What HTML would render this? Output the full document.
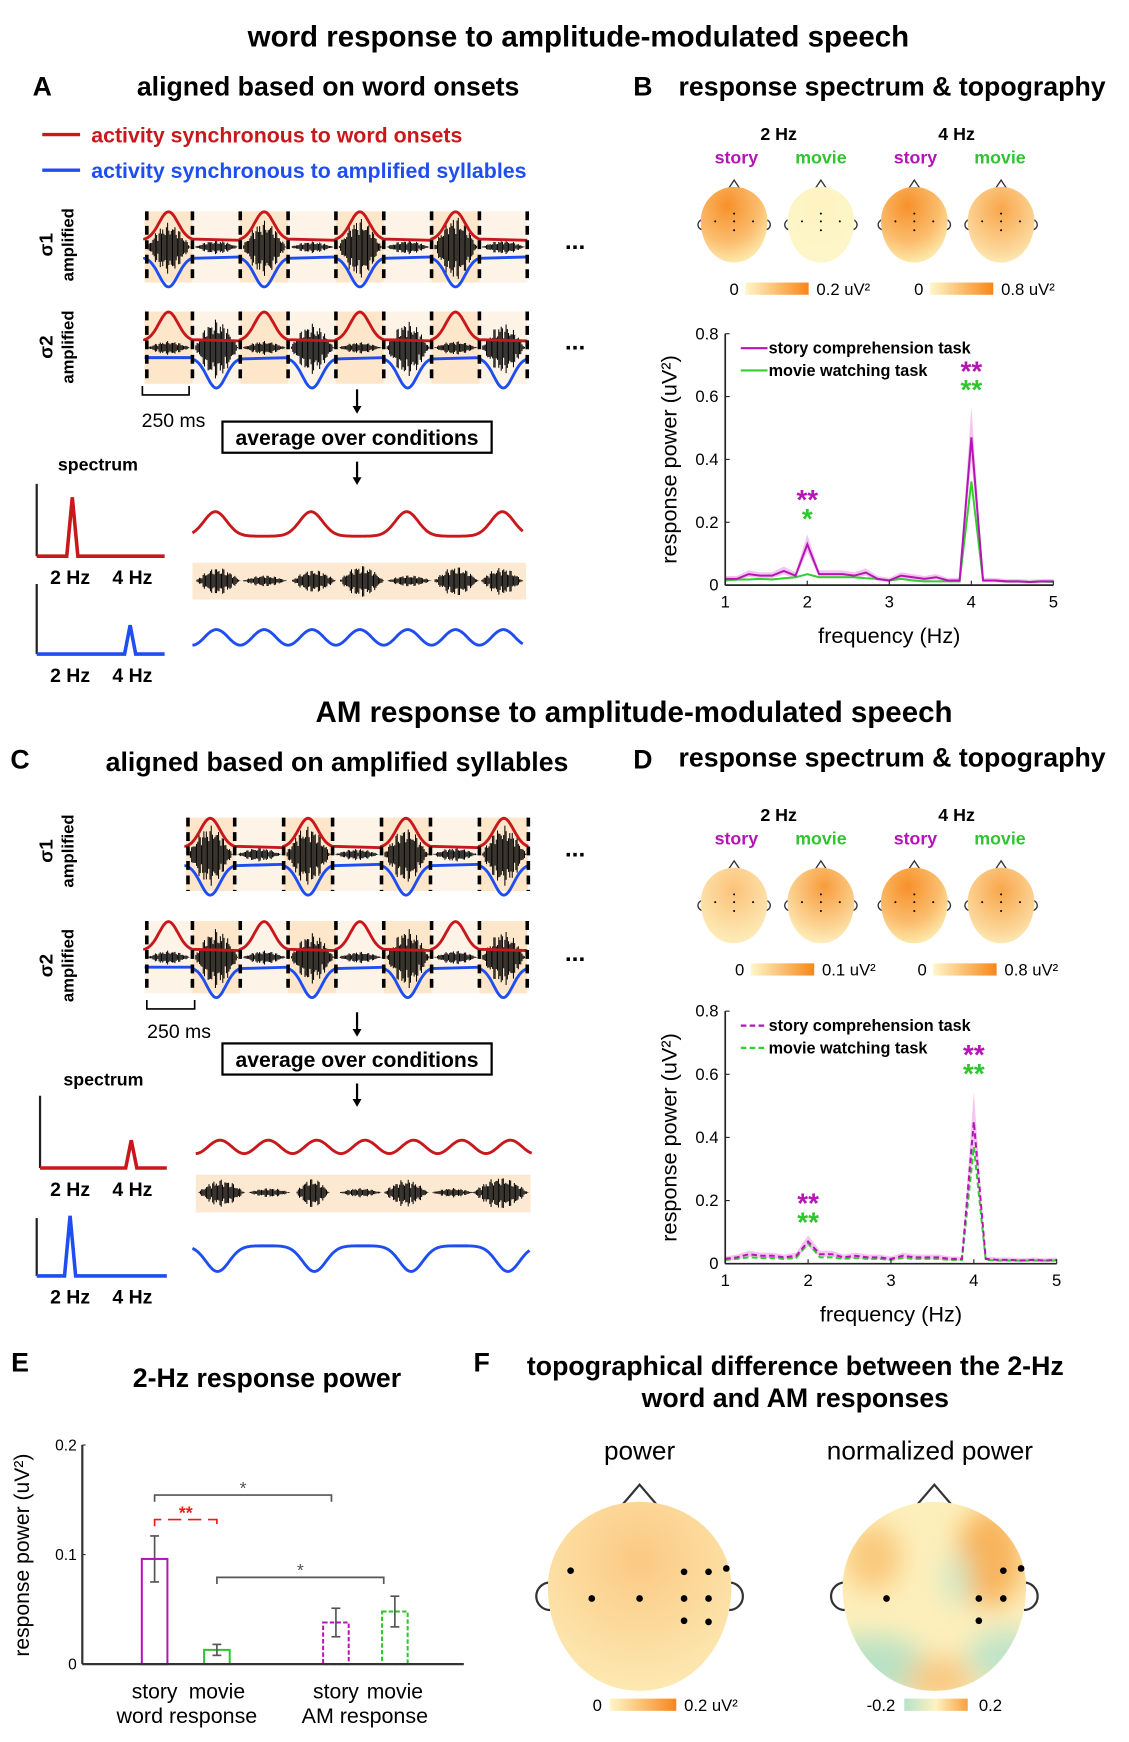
<!DOCTYPE html>
<html><head><meta charset="utf-8"><style>
html,body{margin:0;padding:0;background:#fff}
svg{display:block;font-family:"Liberation Sans",Arial,sans-serif}
</style></head><body>
<svg id="fig" width="1129" height="1742" viewBox="0 0 1015 1566" preserveAspectRatio="none" xmlns="http://www.w3.org/2000/svg">
<defs>
<radialGradient id="gStrong" cx="0.4" cy="0.25" r="0.8"><stop offset="0" stop-color="#f7902a"/><stop offset="0.6" stop-color="#fbbd6e"/><stop offset="1" stop-color="#fdf0b4"/></radialGradient>
<radialGradient id="gMid" cx="0.5" cy="0.3" r="0.8"><stop offset="0" stop-color="#f9a64b"/><stop offset="0.7" stop-color="#fcd79a"/><stop offset="1" stop-color="#fef5c4"/></radialGradient>
<radialGradient id="gWeak" cx="0.5" cy="0.3" r="0.8"><stop offset="0" stop-color="#fef3c0"/><stop offset="1" stop-color="#fef7cb"/></radialGradient>
<radialGradient id="gD1" cx="0.5" cy="0.3" r="0.8"><stop offset="0" stop-color="#fbc27a"/><stop offset="1" stop-color="#fef2c2"/></radialGradient>
<radialGradient id="gD2" cx="0.55" cy="0.25" r="0.8"><stop offset="0" stop-color="#f89c3c"/><stop offset="0.7" stop-color="#fcd698"/><stop offset="1" stop-color="#fef3c4"/></radialGradient>
<radialGradient id="gF1" cx="0.5" cy="0.3" r="0.8"><stop offset="0" stop-color="#fbc983"/><stop offset="1" stop-color="#fdedb8"/></radialGradient>
<linearGradient id="cbOr" x1="0" x2="1"><stop offset="0" stop-color="#fff7c8"/><stop offset="1" stop-color="#f7861a"/></linearGradient>
<linearGradient id="cbDiv" x1="0" x2="1"><stop offset="0" stop-color="#b7e2c8"/><stop offset="0.5" stop-color="#fff2c0"/><stop offset="1" stop-color="#f7a040"/></linearGradient>
<filter id="blur"><feGaussianBlur stdDeviation="12"/></filter>
</defs>
<g id="root"></g>
</svg>
<script>
// ---- chart data ----
const freqs = [1,1.143,1.286,1.429,1.571,1.714,1.857,2,2.143,2.286,2.429,2.571,2.714,2.857,3,3.143,3.286,3.429,3.571,3.714,3.857,4,4.143,4.286,4.429,4.571,4.714,4.857,5];
const bStory = [0.02,0.02,0.035,0.03,0.03,0.045,0.03,0.13,0.035,0.035,0.035,0.03,0.04,0.02,0.015,0.03,0.025,0.02,0.025,0.015,0.015,0.47,0.015,0.015,0.012,0.012,0.01,0.012,0.012];
const bMovie = [0.015,0.018,0.018,0.02,0.018,0.022,0.025,0.035,0.025,0.025,0.025,0.025,0.022,0.02,0.015,0.02,0.015,0.012,0.012,0.012,0.012,0.33,0.015,0.015,0.012,0.012,0.01,0.012,0.01];
const dStory = [0.015,0.02,0.03,0.025,0.025,0.02,0.025,0.07,0.03,0.03,0.02,0.025,0.02,0.02,0.015,0.025,0.02,0.02,0.02,0.015,0.015,0.45,0.015,0.012,0.012,0.01,0.012,0.01,0.012];
const dMovie = [0.012,0.015,0.02,0.018,0.018,0.015,0.018,0.065,0.02,0.02,0.015,0.018,0.015,0.015,0.012,0.018,0.015,0.015,0.015,0.012,0.012,0.37,0.012,0.01,0.01,0.01,0.01,0.01,0.01];
const specTicksX = [1,2,3,4,5];
const specTicksY = [0,0.2,0.4,0.6,0.8];
const barCats = ["story","movie","story","movie"];
const barVals = [0.096,0.013,0.038,0.048];
const barErr = [0.021,0.005,0.013,0.014];
const barTicksY = [0,0.1,0.2];

const NS="http://www.w3.org/2000/svg";
const root=document.getElementById('root');
function el(tag,attrs,parent,text){const e=document.createElementNS(NS,tag);for(const k in attrs)e.setAttribute(k,attrs[k]);if(text!==undefined)e.textContent=text;(parent||root).appendChild(e);return e;}
function txt(x,y,s,size,opts,name){opts=opts||{};const t=el('text',{x:x,y:y,'font-size':size,'text-anchor':opts.anchor||'middle','font-weight':opts.bold?'bold':'normal',fill:opts.fill||'#000'},opts.parent,s);


if(opts.rot)t.setAttribute('transform','rotate(-90 '+x+' '+y+')');return t;}
function line(x1,y1,x2,y2,stroke,w,extra,name){const l=el('line',Object.assign({x1:x1,y1:y1,x2:x2,y2:y2,stroke:stroke,'stroke-width':w},extra||{}));

return l;}

// ---- titles ----
txt(520,42,"word response to amplitude-modulated speech",26.5,{bold:true},"title-top");
txt(38,86,"A",24,{bold:true},"panel-a-label");
txt(295,86,"aligned based on word onsets",24,{bold:true},"panel-a-title");
txt(578,86,"B",24,{bold:true},"panel-b-label");
txt(802,86,"response spectrum & topography",24,{bold:true},"panel-b-title");
txt(570,649,"AM response to amplitude-modulated speech",26.5,{bold:true},"title-middle");
txt(18,691,"C",24,{bold:true},"panel-c-label");
txt(303,693,"aligned based on amplified syllables",24,{bold:true},"panel-c-title");
txt(578,691,"D",24,{bold:true},"panel-d-label");
txt(802,689,"response spectrum & topography",24,{bold:true},"panel-d-title");
txt(18,1233,"E",24,{bold:true},"panel-e-label");
txt(240,1247,"2-Hz response power",24,{bold:true},"panel-e-title");
txt(433,1233,"F",24,{bold:true},"panel-f-label");
txt(715,1236,"topographical difference between the 2-Hz",24,{bold:true},"panel-f-title-1");
txt(715,1265,"word and AM responses",24,{bold:true},"panel-f-title-2");

// legend A
line(38,121,72,121,'#c8181c',3,{},'legend-red-line');
txt(82,128,"activity synchronous to word onsets",19.2,{bold:true,anchor:'start',fill:'#c8181c'},'legend-red-text');
line(38,153,72,153,'#1f4ef0',3,{},'legend-blue-line');
txt(82,160,"activity synchronous to amplified syllables",19.2,{bold:true,anchor:'start',fill:'#1f4ef0'},'legend-blue-text');

// ---- waveform helper ----
function speech(x0,x1,yc,amp,seed,parent){let d="";for(let x=x0;x<=x1;x+=1.1){const t=(x-x0)/(x1-x0);const env=Math.sin(Math.PI*t)*(0.6+0.4*Math.abs(Math.sin(x*0.9+seed)));const a=amp*env*(0.5+0.5*Math.abs(Math.sin(x*2.3+seed*3)));d+="M"+x.toFixed(1)+" "+(yc-a).toFixed(1)+"V"+(yc+a*1.1).toFixed(1);}
const p=el('path',{d:d,stroke:'#000','stroke-width':0.9,fill:'none'},parent);}
function bump(x0,w,yBase,h,dir){let d="";for(let i=0;i<=40;i++){const t=i/40;const x=x0+t*w;const g=Math.exp(-Math.pow((t-0.5)/0.2,2)/2);d+=(i?"L":"M")+x.toFixed(1)+" "+(yBase-dir*h*g).toFixed(1);}return d;}
function row(x0,nseg,segW,yTop,h,darkStart,redSegs,blueSegs,amps,g){
 const yc=yTop+h/2, yr=yc-6, yb=yc+9;
 for(let i=0;i<nseg;i++){const r=el('rect',{x:x0+i*segW,y:yTop,width:segW,height:h,fill:(i%2===darkStart)?'#fde6c9':'#fdf3e7'},g);}
 for(let i=0;i<nseg;i++)speech(x0+i*segW+2,x0+(i+1)*segW-2,yc,amps[i],i*1.7+x0,g);
 let dr="M"+x0+" "+yr, db="M"+x0+" "+yb;
 for(let i=0;i<nseg;i++){const sx=x0+i*segW;
  if(redSegs.includes(i))dr+=bump(sx,segW,yr,h*0.4,1).replace('M','L');else dr+="L"+(sx+segW)+" "+yr;
  if(blueSegs.includes(i))db+=bump(sx,segW,yb,h*0.42,-1).replace('M','L');else db+="L"+(sx+segW)+" "+yb;}
 const pr=el('path',{d:dr,stroke:'#c8181c','stroke-width':2.6,fill:'none'},g);
 const pb=el('path',{d:db,stroke:'#1f4ef0','stroke-width':2.6,fill:'none'},g);
 for(let i=0;i<=nseg;i++){line(x0+i*segW+(i===0?2:0),yTop,x0+i*segW+(i===0?2:0),yTop+h,'#000',3.2,{'stroke-dasharray':'8,5'},'boundary-dash');}
}
const gA=el('g',{});
row(130,8,43,190,64,0,[0,2,4,6],[0,2,4,6],[22,6,24,5,26,6,28,6],gA);
row(130,8,43,280,65,0,[0,2,4,6],[1,3,5,7],[6,26,6,22,5,24,6,22],gA);
txt(47,220,"σ1",17,{bold:true,rot:true},'row-label-s1');txt(66,220,"amplified",15,{bold:true,rot:true},'row-label-amp');
txt(47,312,"σ2",17,{bold:true,rot:true},'row-label-s2');txt(66,312,"amplified",15,{bold:true,rot:true},'row-label-amp');
txt(517,224,"...",22,{bold:true},'ellipsis');txt(517,314,"...",22,{bold:true},'ellipsis');
const sb=el('path',{d:"M128 347V355H170V347",stroke:'#000','stroke-width':1.5,fill:'none'});
txt(156,384,"250 ms",17.5,{},'scale-label');
function arrow(x,y1,y2,name){line(x,y1,x,y2-6,'#000',2,{},name);const p=el('path',{d:`M${x-4} ${y2-7}L${x+4} ${y2-7}L${x} ${y2}Z`,fill:'#000'});}
arrow(321,350,372,'arrow-down');
function avgBox(y){const r=el('rect',{x:200,y:y,width:242,height:28,fill:'#fff',stroke:'#000','stroke-width':2});txt(321,y+21,"average over conditions",19,{bold:true},'average-label');}
avgBox(379);
arrow(321,415,436,'arrow-down-2');
function miniSpec(ax,yTop,yBase,xEnd,peakX,peakY,color){line(ax,yTop,ax,yBase,'#222',2,{},'mini-axis');
 const p=el('path',{d:`M${ax} ${yBase}H${peakX-5}L${peakX} ${peakY}L${peakX+5} ${yBase}H${xEnd}`,stroke:color,'stroke-width':3.2,fill:'none'});
 txt(63,yBase+25,"2 Hz",17.5,{bold:true},'tick-2hz');txt(119,yBase+25,"4 Hz",17.5,{bold:true},'tick-4hz');}
txt(88,423,"spectrum",16,{bold:true},'spectrum-label');
miniSpec(33,435,500,148,65,447,'#c8181c');
miniSpec(33,525,588,148,117,562,'#1f4ef0');
function wave(x0,x1,yc,amp,period,phase,color,name,shape){let d="";for(let x=x0;x<=x1;x+=1){const t=((x-x0)/period+phase)%1;let v;if(shape==='gauss'){v=Math.exp(-Math.pow((t-0.5)/0.12,2)/2);}else if(shape==='dip'){v=-Math.exp(-Math.pow((t-0.5)/0.12,2)/2);}else v=-Math.cos(2*Math.PI*t)*0.5;d+=(x===x0?"M":"L")+x+" "+(yc-amp*v).toFixed(1);}
 const p=el('path',{d:d,stroke:color,'stroke-width':2.6,fill:'none'});}
wave(173,470,482,22,86,0.26,'#c8181c','avg-word-activity','gauss');
const sA=el('rect',{x:173,y:506,width:300,height:33,fill:'#fde9d2'});
[[176,40,12],[218,40,5],[262,40,10],[305,40,14],[348,40,5],[390,40,13],[432,38,12]].forEach((s,i)=>speech(s[0],s[0]+s[1],522,s[2],i*2.1));
wave(173,470,573,14,43,0.0,'#1f4ef0','avg-syllable-activity','cos');

// ---- panel C ----
const gC=el('g',{});
row(167,7,44,735,66,0,[0,2,4,6],[0,2,4,6],[26,6,26,5,24,6,26],gC);
row(130,8,43,828,65,1,[0,2,4,6],[1,3,5,7],[6,26,6,22,5,26,6,24],gC);
txt(47,765,"σ1",17,{bold:true,rot:true},'row-label-s1');txt(66,765,"amplified",15,{bold:true,rot:true},'row-label-amp');
txt(47,868,"σ2",17,{bold:true,rot:true},'row-label-s2');txt(66,868,"amplified",15,{bold:true,rot:true},'row-label-amp');
txt(517,770,"...",22,{bold:true},'ellipsis');txt(517,864,"...",22,{bold:true},'ellipsis');
const sb2=el('path',{d:"M132 899V907H175V899",stroke:'#000','stroke-width':1.5,fill:'none'});
txt(161,933,"250 ms",17.5,{},'scale-label');
arrow(321,910,932,'arrow-down-3');
avgBox(938);
arrow(321,974,995,'arrow-down-4');
txt(93,976,"spectrum",16,{bold:true},'spectrum-label');
miniSpec(36,985,1050,150,118,1025,'#c8181c');
miniSpec(33,1095,1147,150,63,1093,'#1f4ef0');
wave(176,478,1031,12,43.5,0.0,'#c8181c','avg-am-red','cos');
const sC=el('rect',{x:176,y:1056,width:301,height:34,fill:'#fde9d2'});
[[178,42,12],[223,38,4],[266,30,13],[305,38,4],[345,40,12],[388,38,4],[425,50,14]].forEach((s,i)=>speech(s[0],s[0]+s[1],1072,s[2],i*1.3+5));
wave(173,476,1120,23,87,0.24,'#1f4ef0','avg-am-blue','dip');

// ---- heads ----
function headPath(cx,cy,w,h){const rx=w/2,top=cy-h/2,bot=cy+h/2,my=cy-h*0.05;return `M${cx-rx} ${my}A${rx} ${my-top} 0 0 1 ${cx+rx} ${my}C${cx+rx} ${my+h*0.28} ${cx+rx*0.62} ${bot} ${cx} ${bot}C${cx-rx*0.62} ${bot} ${cx-rx} ${my+h*0.28} ${cx-rx} ${my}Z`;}
function head(cx,cy,w,h,fill,name,dots,dotR,extra){const g=el('g',{});
 const top=cy-h/2;const nw=w*0.09;const sw=w>100?2:1.2;
 el('path',{d:`M${cx-nw} ${top+2}L${cx} ${top-h*0.09}L${cx+nw} ${top+2}`,stroke:'#333','stroke-width':sw,fill:'none'},g);
 const er=w*0.075;
 el('path',{d:`M${cx-w/2+2} ${cy-er}A${er} ${er} 0 0 0 ${cx-w/2+2} ${cy+er}`,stroke:'#333','stroke-width':sw,fill:'none'},g);
 el('path',{d:`M${cx+w/2-2} ${cy-er}A${er} ${er} 0 0 1 ${cx+w/2-2} ${cy+er}`,stroke:'#333','stroke-width':sw,fill:'none'},g);
 const id='clip'+Math.round(cx)+'_'+Math.round(cy);const cp=el('clipPath',{id:id},g);el('path',{d:headPath(cx,cy,w,h)},cp);
 el('path',{d:headPath(cx,cy,w,h),fill:fill},g);
 if(extra)extra(g,id);
 dots.forEach(d=>{const c=el('circle',{cx:cx+d[0],cy:cy+d[1],r:dotR,fill:'#000'},g);});}
const sd=[[0,-10],[-17,-3],[0,-3],[17,-3],[0,5]];
function topoRow(yLab,ySub,yHead,fills,cb){txt(700,yLab,"2 Hz",16,{bold:true},'freq-2hz');txt(860,yLab,"4 Hz",16,{bold:true},'freq-4hz');
 [[662,'story','#b515b5'],[738,'movie','#2fc52f'],[823,'story','#b515b5'],[899,'movie','#2fc52f']].forEach(l=>txt(l[0],ySub,l[1],16,{bold:true,fill:l[2]},'condition-label'));
 [660,738,822,900].forEach((x,i)=>head(x,yHead,60,68,fills[i],'topo-head',sd,0.9));
 const cy=yHead+52;
 txt(cb[0][0],cy+11,"0",15,{},'cb-min');el('rect',{x:cb[0][0]+10,y:cy,width:57,height:11,fill:'url(#cbOr)'});txt(cb[0][0]+74,cy+11,cb[0][1],15,{anchor:'start'},'cb-max');
 txt(cb[1][0],cy+11,"0",15,{},'cb-min');el('rect',{x:cb[1][0]+10,y:cy,width:57,height:11,fill:'url(#cbOr)'});txt(cb[1][0]+74,cy+11,cb[1][1],15,{anchor:'start'},'cb-max');}
topoRow(126,147,202,['url(#gStrong)','url(#gWeak)','url(#gStrong)','url(#gMid)'],[[660,"0.2 uV²"],[826,"0.8 uV²"]]);
topoRow(738,759,814,['url(#gD1)','url(#gD2)','url(#gStrong)','url(#gMid)'],[[665,"0.1 uV²"],[829,"0.8 uV²"]]);

// ---- spectrum charts ----
function specChart(x0,x1,y0,y1,s1,s2,dashed,stars,name){const g=el('g',{});
 const X=f=>x0+(f-1)/4*(x1-x0), Y=v=>y0-v/0.8*(y0-y1);
 line(x0,y1,x0,y0,'#222',1.5,{},'y-axis');line(x0,y0,x1,y0,'#222',1.5,{},'x-axis');
 specTicksY.forEach(v=>{line(x0,Y(v),x0+4,Y(v),'#222',1,{},'y-tick');txt(x0-6,Y(v)+5,String(v),15,{anchor:'end'},'y-tick-label');});
 specTicksX.forEach(f=>{line(X(f),y0,X(f),y0-4,'#222',1,{},'x-tick');txt(X(f),y0+20,String(f),15,{},'x-tick-label');});
 let band="";s1.forEach((v,i)=>band+=(i?"L":"M")+X(freqs[i]).toFixed(1)+" "+Y(v*1.2+0.005).toFixed(1));for(let i=s1.length-1;i>=0;i--)band+="L"+X(freqs[i]).toFixed(1)+" "+Y(Math.max(0,s1[i]*0.85-0.004)).toFixed(1);
 const b=el('path',{d:band+"Z",fill:'#f2b5ee',opacity:0.8},g);
 const mk=(s,c,n)=>{let d="";s.forEach((v,i)=>d+=(i?"L":"M")+X(freqs[i]).toFixed(1)+" "+Y(v).toFixed(1));const p=el('path',{d:d,stroke:c,'stroke-width':1.8,fill:'none'},g);if(dashed)p.setAttribute('stroke-dasharray','5,3');};
 mk(s2,'#2fd02f','movie-line');mk(s1,'#b515b5','story-line');
 const ly=y1+13;line(x0+14,ly,x0+38,ly,'#b515b5',2,dashed?{'stroke-dasharray':'5,3'}:{},'legend-story-line');
 txt(x0+39,ly+5,"story comprehension task",14.6,{bold:true,anchor:'start'},'legend-story');
 line(x0+14,ly+20,x0+38,ly+20,'#2fd02f',2,dashed?{'stroke-dasharray':'5,3'}:{},'legend-movie-line');
 txt(x0+39,ly+25,"movie watching task",14.6,{bold:true,anchor:'start'},'legend-movie');
 stars.forEach(s=>txt(X(s[0]),Y(s[1])+8,s[2],25,{bold:true,fill:s[3]},'significance-stars'));
 txt(x0-44,(y0+y1)/2,"response power (uV²)",19.5,{rot:true},'y-axis-title');
 txt((x0+x1)/2,y0+52,"frequency (Hz)",19.5,{},'x-axis-title');}
specChart(652,947,526,300,bStory,bMovie,false,[[2,0.27,"**",'#b515b5'],[2,0.21,"*",'#2fc52f'],[4,0.68,"**",'#b515b5'],[4,0.62,"**",'#2fc52f']],'spectrum-chart-b');
specChart(652,950,1136,909,dStory,dMovie,true,[[2,0.19,"**",'#b515b5'],[2,0.13,"**",'#2fc52f'],[4,0.66,"**",'#b515b5'],[4,0.6,"**",'#2fc52f']],'spectrum-chart-d');

// ---- bar chart E ----
(function(){const x0=74,x1=417,y0=1496,y1=1299;const Y=v=>y0-v/0.2*(y0-y1);
 const g=el('g',{});
 line(x0,y1,x0,y0,'#333',2,{},'y-axis');line(x0,y0,x1,y0,'#333',2,{},'x-axis');
 barTicksY.forEach(v=>{line(x0,Y(v),x0+3,Y(v),'#333',1,{},'y-tick');txt(x0-5,Y(v)+5,String(v),14,{anchor:'end'},'y-tick-label');});
 const xs=[139,195,302,355];const cols=['#b515b5','#2fc52f','#b515b5','#2fc52f'];
 barVals.forEach((v,i)=>{const r=el('rect',{x:xs[i]-11.5,y:Y(v),width:23,height:y0-Y(v),fill:'none',stroke:cols[i],'stroke-width':1.8},g);if(i>1)r.setAttribute('stroke-dasharray','4,2');
  const hi=Y(v+barErr[i]),lo=Y(v-barErr[i]);line(xs[i],hi,xs[i],lo,'#555',1.5,{},'error-bar');line(xs[i]-4,hi,xs[i]+4,hi,'#555',1.5,{},'error-cap');line(xs[i]-4,lo,xs[i]+4,lo,'#555',1.5,{},'error-cap');
  txt(xs[i],1527,barCats[i],19,{},'x-category-label');});
 txt(168,1549,"word response",19.3,{},'group-label-word');txt(328,1549,"AM response",19.3,{},'group-label-am');
 const br=(xa,xb,y,c,d,s,n)=>{const p=el('path',{d:`M${xa} ${y+6}V${y}H${xb}V${y+6}`,stroke:c,'stroke-width':1.5,fill:'none'},g);if(d)p.setAttribute('stroke-dasharray','12,6');txt((xa+xb)/2,y-1,s,16,{fill:c,bold:c!=='#555'},n+'-stars');};
 br(xs[0],298,1344,'#555',false,"*",'bracket-story');br(xs[0],xs[1],1366,'#f01818',true,"**",'bracket-word');br(xs[1],345,1418,'#555',false,"*",'bracket-movie');
 txt(26,1398,"response power (uV²)",19,{rot:true},'y-axis-title');})();

// ---- panel F big heads ----
txt(575,1312,"power",23.5,{},'f-power-title');txt(836,1312,"normalized power",23.5,{},'f-norm-title');
head(575,1435,165,170,'url(#gF1)','topo-power',[[-62,-23],[-43,2],[0,2],[40,-22],[62,-22],[78,-25],[40,2],[62,2],[40,22],[62,23]],3);
head(840,1435,165,170,'#fdefbb','topo-normalized',[[-43,2],[62,-23],[78,-25],[40,2],[62,2],[40,22]],3,function(g,id){
 const gg=el('g',{'clip-path':'url(#'+id+')',filter:'url(#blur)'},g);
 el('ellipse',{cx:840+50,cy:1400,rx:30,ry:45,fill:'#f7b45c'},gg);
 el('ellipse',{cx:840-55,cy:1400,rx:25,ry:30,fill:'#f9c87a'},gg);
 el('ellipse',{cx:840-55,cy:1500,rx:50,ry:30,fill:'#b9e2c4'},gg);
 el('ellipse',{cx:840+65,cy:1490,rx:35,ry:25,fill:'#bfe4c8'},gg);
 el('ellipse',{cx:840+20,cy:1420,rx:12,ry:25,fill:'#cfe9c8'},gg);
 el('ellipse',{cx:840+5,cy:1510,rx:30,ry:20,fill:'#f9c880'},gg);});
txt(537,1538,"0",15,{},'cb-min');el('rect',{x:548,y:1527,width:60,height:11,fill:'url(#cbOr)'});txt(615,1538,"0.2 uV²",15,{anchor:'start'},'cb-max');
txt(792,1538,"-0.2",15,{},'cb-min');el('rect',{x:813,y:1527,width:57,height:11,fill:'url(#cbDiv)'});txt(880,1538,"0.2",15,{anchor:'start'},'cb-max');
</script>
</body></html>
